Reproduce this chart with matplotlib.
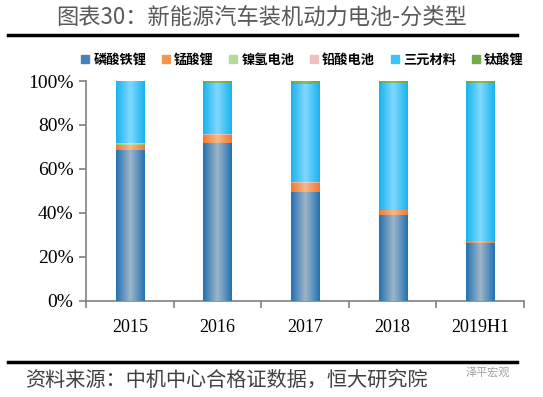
import numpy as np
import matplotlib.pyplot as plt
from matplotlib.colors import LinearSegmentedColormap
from matplotlib.lines import Line2D

plt.rcParams['font.family'] = ['Noto Sans CJK SC', 'DejaVu Sans']

years = ['2015', '2016', '2017', '2018', '2019H1']
names = ['磷酸铁锂', '锰酸锂', '镍氢电池', '铅酸电池', '三元材料', '钛酸锂']
lfp = [68.7, 71.8, 49.6, 39.1, 26.1]
lmo = [2.3, 3.5, 3.8, 2.0, 0.9]
nimh = [0.1, 0.1, 0.1, 0.1, 0.0]
lead = [0.5, 0.6, 0.5, 0.2, 0.1]
ncm = [28.2, 23.2, 44.5, 57.8, 72.0]
lto = [0.2, 0.8, 1.5, 0.8, 0.9]
series = [lfp, lmo, nimh, lead, ncm, lto]

# (edge, centre) gradient colours and legend colour
grads = [('#2472B4', '#9CB4C8'), ('#EE7B30', '#F6B888'), ('#8FC46A', '#C6E3B0'),
         ('#E0AAA8', '#F2D0CF'), ('#1AB2EE', '#7ED9FF'), ('#6AA843', '#86C062')]
legend_cols = ['#4A7FB8', '#F4954A', '#B5DB98', '#EBC0BF', '#3DC3F4', '#70AD47']

fig = plt.figure(figsize=(5.43, 3.97), dpi=100)
ax = fig.add_axes([86 / 543, 1 - 300.7 / 397, 438 / 543, 219.7 / 397])

x = np.arange(len(years))
bottom = np.zeros(len(years))
grad = np.linspace(0, 1, 64)
grad = np.abs(grad - 0.5) * 2
for vals, (edge, mid) in zip(series, grads):
    bars = ax.bar(x, vals, 0.32, bottom=bottom, color=mid, linewidth=0, zorder=2)
    cmap = LinearSegmentedColormap.from_list('g', [mid, edge])
    for b in bars:
        if b.get_height() <= 0:
            continue
        bx, by = b.get_x(), b.get_y()
        im = ax.imshow(grad[None, :], cmap=cmap, aspect='auto', zorder=3,
                       extent=[bx, bx + b.get_width(), by, by + b.get_height()])
        im.set_clip_path(b)
    bottom += np.array(vals)

ax.set_xlim(-0.5, len(years) - 0.5)
ax.set_ylim(0, 100)
ax.set_yticks(np.arange(0, 101, 20))
ax.set_yticklabels([f'{v}%' for v in range(0, 101, 20)], family='Liberation Serif', fontsize=14)
ax.set_xticks(x)
ax.set_xticklabels(years, family='Liberation Serif', fontsize=13)
ax.set_xticks(np.arange(-0.5, len(years), 1), minor=True)
ax.tick_params(axis='x', which='major', length=0, pad=13)
ax.tick_params(axis='x', which='minor', length=5, color='#808080', width=1.2)
ax.tick_params(axis='y', length=5, color='#808080', width=1.2, pad=4)
for s in ['top', 'right']:
    ax.spines[s].set_visible(False)
for s in ['left', 'bottom']:
    ax.spines[s].set_color('#808080')
    ax.spines[s].set_linewidth(1.2)

handles = [Line2D([], [], marker='s', ls='', color=c, markersize=6) for c in legend_cols]
fig.legend(handles, names, loc='center', bbox_to_anchor=(301 / 543, 1 - 60 / 397),
           ncol=6, frameon=False, handletextpad=0.1, columnspacing=1.0,
           handlelength=1.0, prop={'weight': 'bold', 'size': 9.5})

fig.text(262 / 543, 1 - 17 / 397, '图表30：新能源汽车装机动力电池-分类型', ha='center', va='center',
         fontsize=16, color='#595959')
fig.add_artist(Line2D([8 / 543, 517 / 543], [1 - 34.5 / 397] * 2, color='black', lw=2.5))
fig.add_artist(Line2D([8 / 543, 517 / 543], [1 - 361.5 / 397] * 2, color='black', lw=2.5))
fig.text(25 / 543, 1 - 380 / 397, '资料来源：中机中心合格证数据，恒大研究院', ha='left', va='center',
         fontsize=14.5, color='#404040', style='italic')
fig.text(488 / 543, 1 - 372 / 397, '泽平宏观', ha='center', va='center', fontsize=8, color='#A0A0A0')

fig.savefig('out.png', dpi=100)
